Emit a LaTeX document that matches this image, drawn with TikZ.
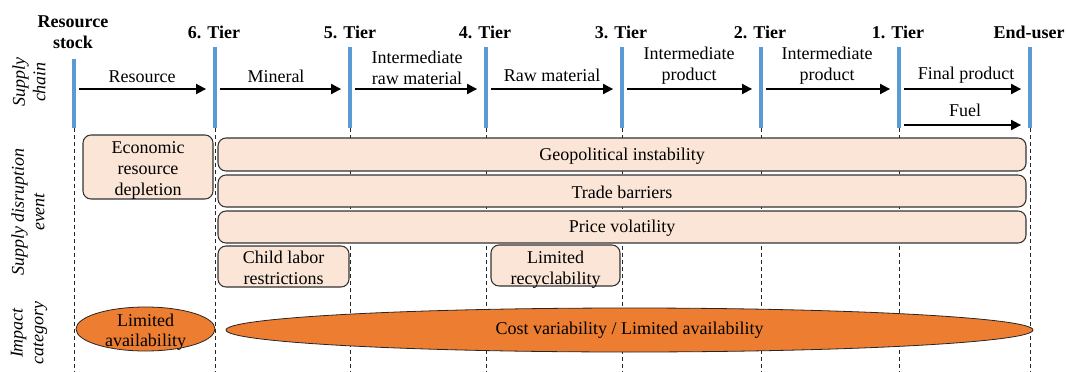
\documentclass[tikz,border=0pt]{standalone}
\usepackage{fontspec}
\setmainfont{Liberation Serif}
\usetikzlibrary{arrows.meta,shapes.geometric}
\definecolor{barblue}{HTML}{5B9BD5}
\definecolor{peach}{HTML}{FBE5D6}
\definecolor{impact}{HTML}{ED7D31}
\begin{document}
\begin{tikzpicture}[x=0.75pt,y=-0.75pt,
  font=\fontsize{13.5}{15.5}\selectfont,
  bar/.style={fill=barblue,draw=none,inner sep=0pt,minimum width=3pt,minimum height=60.75pt},
  stockbar/.style={bar,minimum height=51.75pt},
  grid/.style={draw=black!85,line width=0.6pt,dash pattern=on 3pt off 2.2pt},
  flow/.style={-{Triangle[length=7.5pt,width=7.5pt]},line width=1.4pt,shorten <=2pt,shorten >=5pt},
  tier/.style={font=\fontsize{13.5}{15.5}\selectfont\bfseries,anchor=base,inner sep=0pt},
  lbl/.style={anchor=base,inner sep=0pt},
  lbltwo/.style={align=center,inner sep=0pt},
  txt/.style={align=center,inner sep=0pt},
  evt/.style={draw=black!80,fill=peach,rounded corners=6pt,line width=0.8pt,inner sep=0pt,align=center},
  imp/.style={ellipse,draw=black!85,fill=impact,line width=0.6pt,inner sep=0pt},
  side/.style={rotate=90,align=center,font=\fontsize{13.5}{15.5}\selectfont\itshape,inner sep=0pt}]
\useasboundingbox (0,0) rectangle (1066,371);

% reference heights
\coordinate (bot) at (0,371);
\coordinate (ya) at (0,89);
\coordinate (yf) at (0,125);

% tier bars
\node[stockbar] (b0) at (74,93.5) {};
\node[bar] (b1) at (215,87.5) {};
\node[bar] (b2) at (350,87.5) {};
\node[bar] (b3) at (486,87.5) {};
\node[bar] (b4) at (622,87.5) {};
\node[bar] (b5) at (761,87.5) {};
\node[bar] (b6) at (899,87.5) {};
\node[bar] (b7) at (1030,87.5) {};

% dashed guides below the bars
\foreach \b in {b0,b1,b2,b3,b4,b5,b6,b7}
  \draw[grid] (\b.south) -- (\b.south |- bot);

% tier headings
\node[tier,align=center,anchor=center] (h0) at (73,32) {Resource\\stock};
\node[tier] (h1) at (214,38) {6. Tier};
\node[tier] (h2) at (350,38) {5. Tier};
\node[tier] (h3) at (485,38) {4. Tier};
\node[tier] (h4) at (621,38) {3. Tier};
\node[tier] (h5) at (760,38) {2. Tier};
\node[tier] (h6) at (898,38) {1. Tier};
\node[tier] (h7) at (1029,38) {End-user};

% material flows
\draw[flow] (b0.east |- ya) -- (b1.west |- ya);
\draw[flow] (b1.east |- ya) -- (b2.west |- ya);
\draw[flow] (b2.east |- ya) -- (b3.west |- ya);
\draw[flow] (b3.east |- ya) -- (b4.west |- ya);
\draw[flow] (b4.east |- ya) -- (b5.west |- ya);
\draw[flow] (b5.east |- ya) -- (b6.west |- ya);
\draw[flow] (b6.east |- ya) -- (b7.west |- ya);
\draw[flow] (b6.east |- yf) -- (b7.west |- yf);

\node[lbl] (f1) at (142,82) {Resource};
\node[lbl] (f2) at (276,82) {Mineral};
\node[lbltwo] (f3) at (417,68) {Intermediate\\raw material};
\node[lbl] (f4) at (552,81) {Raw material};
\node[lbltwo] (f5) at (689,66) {Intermediate\\product};
\node[lbltwo] (f6) at (827,66) {Intermediate\\product};
\node[lbl] (f7) at (966,79) {Final product};
\node[lbl] (f8) at (965,116) {Fuel};

% row titles
\node[side] (s1) at (29,82) {Supply\\chain};
\node[side] (s2) at (28,212) {Supply disruption\\event};
\node[side] (s3) at (29,333) {Impact\\category};

% supply disruption events
\node[evt,minimum width=97.5pt,minimum height=48pt] (e1) at (148,167) {};
\node[txt,font=\fontsize{13.5}{16}\selectfont] (e1t) at ([yshift=-2.5pt]e1.center) {Economic\\resource\\depletion};
\node[evt,minimum width=606pt,minimum height=24.75pt] (e2) at (622,154.5) {};
\node[txt] (e2t) at ([yshift=-1pt]e2.center) {Geopolitical instability};
\node[evt,minimum width=606pt,minimum height=24pt] (e3) at (622,191) {};
\node[txt] (e3t) at ([yshift=-1pt]e3.center) {Trade barriers};
\node[evt,minimum width=606pt,minimum height=24pt] (e4) at (622,227) {};
\node[txt] (e4t) at ([yshift=-1pt]e4.center) {Price volatility};
\node[evt,minimum width=98.25pt,minimum height=30.75pt] (e5) at (283.5,266.5) {};
\node[txt] (e5t) at ([yshift=-1pt]e5.center) {Child labor\\restrictions};
\node[evt,minimum width=96.75pt,minimum height=30.75pt] (e6) at (555.5,265.5) {};
\node[txt] (e6t) at ([yshift=-3pt]e6.center) {Limited\\recyclability};

% impact categories
\node[imp,minimum width=104.25pt,minimum height=33pt] (i1) at (145.5,329) {};
\node[txt] (t1) at ([yshift=-2.5pt]i1.center) {Limited\\availability};
\node[imp,minimum width=605.25pt,minimum height=33pt] (i2) at (629.5,330) {};
\node[txt] (t2) at (i2.center) {Cost variability / Limited availability};
\end{tikzpicture}
\end{document}
